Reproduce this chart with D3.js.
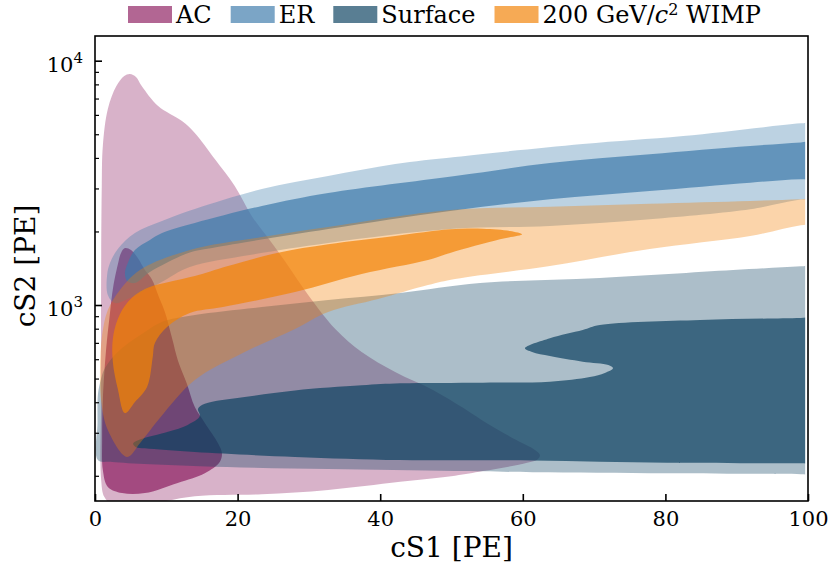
<!DOCTYPE html>
<html>
<head>
<meta charset="utf-8">
<script src="https://cdn.jsdelivr.net/npm/d3@7"></script>
<style>
  html, body { margin: 0; padding: 0; background: #fff; }
  svg { display: block; font-family: "DejaVu Serif", serif; }
</style>
</head>
<body>
<svg id="chart" width="831" height="569"></svg>
<script>
// Contour boundaries of each population, points as [cS1 (PE), cS2 (PE)].
// "Outer" is the wider (lighter) contour, "inner" the core contour.
// Bands that run off the right edge are closed past cS1 = 100 and clipped.
const acOuter = [
  [2.4,153],[1.3,164],[0.85,195],[0.85,408],[0.85,1048],[0.95,3070],[1.1,4475],[1.8,6340],
  [3.0,7880],[4.1,8660],[4.9,8820],[5.75,8580],[6.55,7880],[8.85,6525],[12.2,5660],
  [14.0,5060],[16.8,3960],[19.6,3070],[22.0,2310],[24.8,1795],[27.1,1445],[29.9,1100],
  [33.7,798],[37.4,642],[42.1,532],[47.4,449],[52.1,372],[54.9,329],[59.1,280],[61.7,255],
  [62.4,243],[62.1,234],[60.6,226],[54.4,209],[50.5,200],[42.8,189],[32.7,175],[23.4,168],
  [14.0,165],[7.7,154]
];
const acInner = [
  [4.2,1710],[5.05,1680],[6.0,1557],[7.0,1390],[7.95,1278],[8.85,1100],[9.8,936],[10.8,733],
  [11.65,590],[12.85,479],[14.0,382],[15.4,329],[17.25,272],[17.8,248],[17.5,228],[15.4,205],
  [11.6,187],[7.0,170],[3.8,170],[1.8,180],[1.1,211],[1.0,280],[1.1,408],[1.55,654],
  [2.1,927],[2.55,1185],[3.25,1486],[3.65,1633]
];
const erOuter = [
  [1.7,1327],[2.1,1486],[3.2,1696],[5.6,1971],[9.4,2207],[14.0,2472],[23.4,2985],[32.7,3373],
  [42.1,3777],[50.5,4035],[68.4,4560],[82.5,4918],[99.0,5540],[104,5660],[104,2760],
  [99.0,2700],[96.5,2622],[91.9,2465],[77.8,2243],[63.8,2106],[49.8,2047],[32.7,1795],
  [21.7,1602],[13.3,1431],[9.1,1230],[4.9,1068],[2.8,1019],[1.8,1099]
];
const erInner = [
  [4.6,1486],[5.6,1680],[7.7,1846],[9.4,1971],[14.0,2166],[23.4,2542],[32.7,2873],[50.5,3373],
  [63.8,3813],[77.8,4140],[91.9,4475],[99.0,4630],[104,4720],[104,3250],[99.0,3270],
  [91.9,3167],[77.8,2928],[63.8,2709],[49.8,2426],[32.7,2047],[16.8,1720],[13.3,1640],
  [7.7,1365],[5.6,1230],[4.5,1254],[4.2,1352]
];
const surfaceOuter = [
  [0.4,428],[0.7,479],[1.4,552],[3.5,654],[7.0,775],[9.35,852],[14.0,910],[23.4,981],
  [32.7,1048],[42.8,1120],[54.0,1230],[70.8,1290],[89.5,1391],[99.0,1440],[104,1470],
  [104,202],[99.0,203],[80.2,205],[61.4,207],[50.5,209],[32.7,213],[14.7,219],[2.4,228],
  [0.4,232],[0.35,330]
];
const surfaceInner = [
  [104,892],[99.0,885],[84.9,868],[70.8,828],[68.4,790],[63.8,731],[60.3,665],[61.3,642],
  [63.8,618],[68.4,586],[72.0,568],[72.65,551],[71.5,527],[69.4,507],[63.8,485],[54.4,481],
  [42.8,478],[37.4,469],[28.05,447],[21.0,420],[15.4,394],[14.45,376],[14.7,351],[13.0,323],
  [9.35,298],[7.0,286],[5.35,271],[5.75,262],[7.0,259],[14.0,250],[28.05,239],[42.8,232],
  [61.4,231],[80.2,226],[99.0,225],[104,225]
];
const wimpOuter = [
  [104,2740],[99.0,2712],[91.9,2666],[77.8,2598],[63.8,2526],[49.8,2448],[32.7,2086],
  [23.4,1898],[13.3,1680],[6.3,1391],[3.5,1152],[1.8,954],[1.0,754],[0.7,542],[0.85,408],
  [1.8,308],[4.5,239],[6.3,272],[9.1,345],[14.0,493],[21.0,642],[28.05,798],[32.7,936],
  [39.7,1058],[46.7,1207],[50.5,1278],[63.8,1444],[77.8,1696],[91.9,1916],[99.0,2120],
  [104,2200]
];
const wimpInner = [
  [59.9,1947],[58.2,2009],[54.4,2053],[49.8,2041],[42.1,1916],[32.7,1772],[25.7,1638],
  [18.65,1444],[14.0,1314],[11.6,1266],[7.0,1163],[4.6,1029],[3.2,876],[2.5,726],[2.5,585],
  [3.2,453],[4.2,361],[5.6,401],[7.3,462],[8.1,613],[8.4,699],[10.1,813],[13.3,927],
  [17.95,981],[28.05,1130],[37.4,1339],[46.7,1528],[49.8,1633],[56.8,1858]
];

const seriesNames = ["AC", "ER", "Surface", "WIMP"];
const seriesColors = ["#8d1d60", "#3c7aab", "#0b4160", "#f28205"];
const xTicks = [0, 20, 40, 60, 80, 100];
const yMajorTicks = [1000, 10000];
const yMinorTicks = [200, 300, 400, 500, 600, 700, 800, 900,
                     2000, 3000, 4000, 5000, 6000, 7000, 8000, 9000];

// ---- layout ----
const svg = d3.select("#chart");
const plot = { left: 95, right: 808, top: 36, bottom: 501 };
const dataEnd = 99.6; // contour grid stops just short of the right edge

const x = d3.scaleLinear().domain([0, 100]).range([plot.left, plot.right]);
const y = d3.scaleLog().domain([157.7, 12620]).range([plot.bottom, plot.top]);

svg.append("defs").append("clipPath").attr("id", "plotClip")
  .append("rect")
  .attr("x", plot.left).attr("y", plot.top)
  .attr("width", x(dataEnd) - plot.left)
  .attr("height", plot.bottom - plot.top);

const shape = d3.line()
  .x(d => x(d[0]))
  .y(d => y(d[1]))
  .curve(d3.curveCatmullRomClosed.alpha(0.5));

const outerAlpha = 0.34;   // light contour
const innerAlpha = 0.697;  // core contour stacked on the light one (≈0.8 total)

const populations = [
  { outer: acOuter, inner: acInner },
  { outer: erOuter, inner: erInner },
  { outer: surfaceOuter, inner: surfaceInner },
  { outer: wimpOuter, inner: wimpInner }
];

const gShapes = svg.append("g").attr("clip-path", "url(#plotClip)");
populations.forEach((p, i) => {
  gShapes.append("path").attr("d", shape(p.outer))
    .attr("fill", seriesColors[i]).attr("fill-opacity", outerAlpha);
  gShapes.append("path").attr("d", shape(p.inner))
    .attr("fill", seriesColors[i]).attr("fill-opacity", innerAlpha);
});

// ---- axes (ticks point inward) ----
const tickFont = 21;
const xAxis = d3.axisBottom(x).tickValues(xTicks).tickFormat(d3.format("d"))
  .tickSizeInner(-7).tickSizeOuter(0).tickPadding(10);
const gx = svg.append("g").attr("transform", `translate(0,${plot.bottom})`).call(xAxis);
gx.select(".domain").remove();
gx.selectAll(".tick line").attr("stroke", "#000").attr("stroke-width", 1.6);
gx.selectAll(".tick text").attr("font-family", "DejaVu Serif, serif")
  .attr("font-size", tickFont).attr("fill", "#000");

const yMinor = d3.axisLeft(y).tickValues(yMinorTicks).tickFormat("")
  .tickSizeInner(-4).tickSizeOuter(0);
const gyMinor = svg.append("g").attr("transform", `translate(${plot.left},0)`).call(yMinor);
gyMinor.select(".domain").remove();
gyMinor.selectAll(".tick line").attr("stroke", "#000").attr("stroke-width", 1.2);

const yMajor = d3.axisLeft(y).tickValues(yMajorTicks).tickFormat("")
  .tickSizeInner(-7).tickSizeOuter(0);
const gy = svg.append("g").attr("transform", `translate(${plot.left},0)`).call(yMajor);
gy.select(".domain").remove();
gy.selectAll(".tick line").attr("stroke", "#000").attr("stroke-width", 1.6);

// power-of-ten labels
yMajorTicks.forEach(v => {
  const t = svg.append("text")
    .attr("x", plot.left - 12).attr("y", y(v) + 11)
    .attr("text-anchor", "end").attr("font-size", tickFont).attr("fill", "#000");
  t.append("tspan").text("10");
  t.append("tspan").attr("font-size", 15).attr("dy", -9)
    .text(String(Math.round(Math.log10(v))));
});

// frame
svg.append("rect")
  .attr("x", plot.left).attr("y", plot.top)
  .attr("width", plot.right - plot.left).attr("height", plot.bottom - plot.top)
  .attr("fill", "none").attr("stroke", "#000").attr("stroke-width", 1.6);

// axis titles
svg.append("text").attr("x", (plot.left + plot.right) / 2).attr("y", 557)
  .attr("text-anchor", "middle").attr("font-size", 28).attr("fill", "#000")
  .text("cS1 [PE]");
svg.append("text")
  .attr("transform", `translate(35,266) rotate(-90)`)
  .attr("text-anchor", "middle").attr("font-size", 28).attr("fill", "#000")
  .text("cS2 [PE]");

// ---- legend ----
const legend = svg.append("g");
let lx = 128;
seriesNames.forEach((name, i) => {
  legend.append("rect").attr("x", lx).attr("y", 6).attr("width", 44).attr("height", 17)
    .attr("fill", seriesColors[i]).attr("fill-opacity", 0.68);
  const t = legend.append("text").attr("x", lx + 48).attr("y", 23)
    .attr("font-size", 24).attr("fill", "#000");
  if (name === "WIMP") {
    t.append("tspan").text("200 GeV/");
    t.append("tspan").attr("font-style", "italic").text("c");
    t.append("tspan").attr("font-size", 16).attr("dy", -8).text("2");
    t.append("tspan").attr("dy", 8).text(" WIMP");
  } else {
    t.text(name);
  }
  lx = lx + 48 + t.node().getComputedTextLength() + 19;
});
</script>
</body>
</html>
